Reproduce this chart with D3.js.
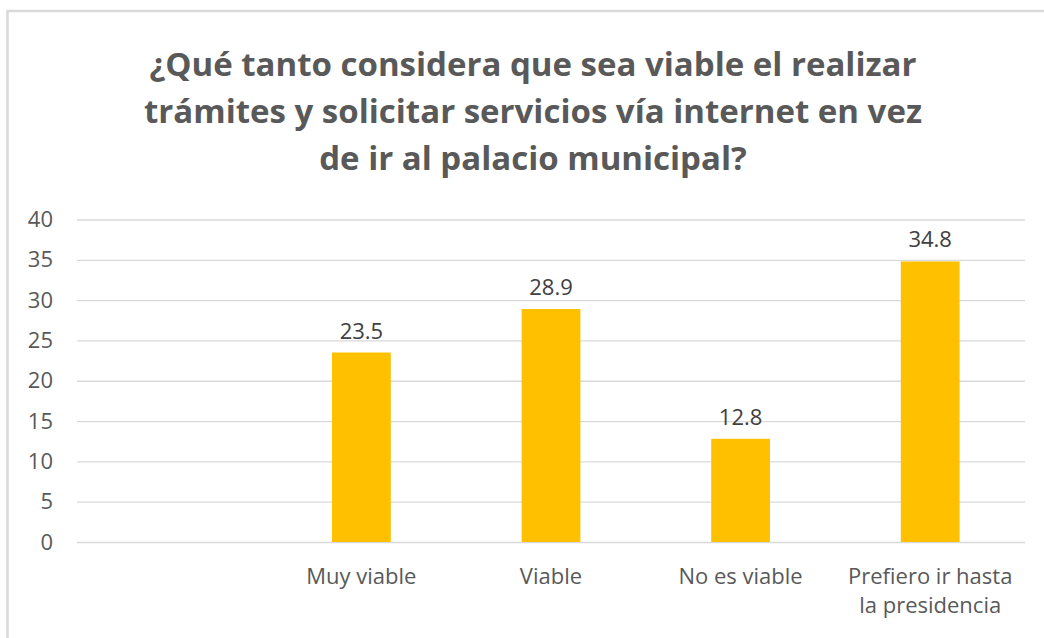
<!DOCTYPE html>
<html>
<head>
<meta charset="utf-8">
<script src="https://cdn.jsdelivr.net/npm/d3@7"></script>
<style>
  body { margin: 0; background: #fff; }
  svg { display: block; font-family: "Open Sans", sans-serif; }
</style>
</head>
<body>
<script>
// data
var categories = ["", "Muy viable", "Viable", "No es viable", "Prefiero ir hasta la presidencia"];
var values = [null, 23.5, 28.9, 12.8, 34.8];
var yTicks = [0, 5, 10, 15, 20, 25, 30, 35, 40];
var titleLines = ["¿Qué tanto considera que sea viable el realizar",
                  "trámites y solicitar servicios vía internet en vez",
                  "de ir al palacio municipal?"];

var w = 1044, h = 638;
var plotLeft = 77, plotRight = 1025, plotTop = 219.5, plotBottom = 542;

var svg = d3.select("body").append("svg")
    .attr("width", w)
    .attr("height", h);

// chart frame (only top and left edges are visible)
svg.append("rect")
    .attr("x", 7.5).attr("y", 11)
    .attr("width", 1100).attr("height", 700)
    .attr("fill", "none")
    .attr("stroke", "#d9d9d9")
    .attr("stroke-width", 2.5);

// title
svg.append("text")
    .attr("text-anchor", "middle")
    .attr("fill", "#595959")
    .attr("font-size", 33)
    .attr("font-weight", "bold")
    .selectAll("tspan")
    .data(titleLines)
    .enter()
    .append("tspan")
    .attr("x", 533)
    .attr("y", function(d, i) { return 76 + i * 47; })
    .text(function(d) { return d; });

var x = d3.scaleBand()
    .domain(categories.map(function(d, i) { return i; }))
    .range([plotLeft, plotRight])
    .paddingInner(0.69)
    .paddingOuter(0.345);

var y = d3.scaleLinear()
    .domain([0, 40])
    .range([plotBottom, plotTop]);

// gridlines + y labels
var yAxis = d3.axisLeft(y)
    .tickValues(yTicks)
    .tickSize(-(plotRight - plotLeft))
    .tickPadding(24);

var gy = svg.append("g")
    .attr("transform", "translate(" + plotLeft + ",0)")
    .call(yAxis);
gy.select(".domain").remove();
gy.selectAll(".tick line").attr("stroke", "#d9d9d9").attr("stroke-width", 1.3);
gy.selectAll(".tick text")
    .attr("fill", "#595959")
    .attr("font-size", 22)
    .attr("font-family", "'Open Sans', sans-serif");

// bars
var bars = svg.selectAll("g.bar")
    .data(values.map(function(v, i) { return { v: v, i: i }; }).filter(function(d) { return d.v != null; }))
    .enter()
    .append("g")
    .attr("class", "bar");

bars.append("rect")
    .attr("x", function(d) { return x(d.i); })
    .attr("y", function(d) { return y(d.v); })
    .attr("width", x.bandwidth())
    .attr("height", function(d) { return y(0) - y(d.v); })
    .attr("fill", "#ffc000");

// value labels
bars.append("text")
    .attr("x", function(d) { return x(d.i) + x.bandwidth() / 2; })
    .attr("y", function(d) { return y(d.v) - 14; })
    .attr("text-anchor", "middle")
    .attr("fill", "#404040")
    .attr("font-size", 22)
    .text(function(d) { return d.v.toFixed(1); });

// category labels, wrapped like Excel does
var wrapAt = { "Prefiero ir hasta la presidencia": ["Prefiero ir hasta", "la presidencia"] };
var cat = svg.selectAll("text.cat")
    .data(categories.map(function(c, i) { return { c: c, i: i }; }).filter(function(d) { return d.c; }))
    .enter()
    .append("text")
    .attr("class", "cat")
    .attr("text-anchor", "middle")
    .attr("fill", "#595959")
    .attr("font-size", 22);

cat.selectAll("tspan")
    .data(function(d) {
        var lines = wrapAt[d.c] || [d.c];
        return lines.map(function(l) { return { l: l, cx: x(d.i) + x.bandwidth() / 2 }; });
    })
    .enter()
    .append("tspan")
    .attr("x", function(d) { return d.cx; })
    .attr("y", function(d, i) { return 584 + i * 29; })
    .text(function(d) { return d.l; });
</script>
</body>
</html>
